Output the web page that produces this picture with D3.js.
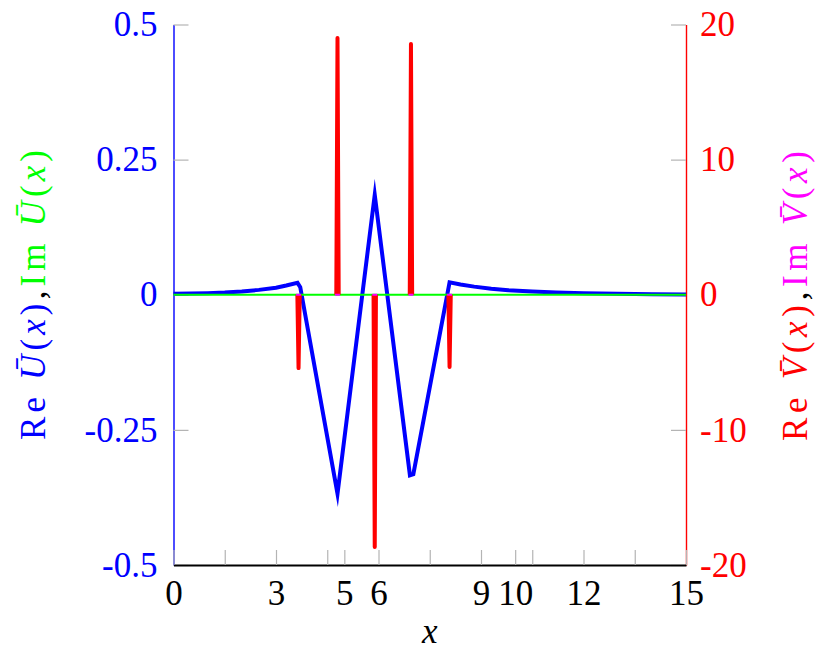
<!DOCTYPE html>
<html>
<head>
<meta charset="utf-8">
<script src="https://cdn.jsdelivr.net/npm/d3@7"></script>
<style>
  html, body { margin: 0; padding: 0; background: #fff; }
  svg { display: block; font-family: "Liberation Serif", "DejaVu Serif", serif; }
</style>
</head>
<body>
<svg id="chart" width="830" height="658"></svg>
<script>
// ---------- data ----------
const xTicks = [0, 1.5, 3, 4.5, 5, 6, 7.5, 9, 10, 10.5, 12, 13.5, 15];
const xTickLabels = ["0", "", "3", "", "5", "6", "", "9", "10", "", "12", "", "15"];
const yLeftTicks = [-0.5, -0.25, 0, 0.25, 0.5];
const yLeftTickLabels = ["-0.5", "-0.25", "0", "0.25", "0.5"];
const yRightTicks = [-20, -10, 0, 10, 20];
const yRightTickLabels = ["-20", "-10", "0", "10", "20"];

// Re U(x)  (left axis)
const reUx = [0, 0.5, 1, 1.5, 2, 2.5, 3, 3.3, 3.63, 3.71, 4.80, 5.89, 6.92, 7.02, 8.08, 8.4, 8.8, 9.3, 9.8, 10.5, 11.2, 12, 13, 14, 15];
const reUy = [0.002, 0.0025, 0.003, 0.004, 0.006, 0.009, 0.013, 0.017, 0.022, 0.014, -0.368, 0.185, -0.334, -0.332, 0.023, 0.019, 0.015, 0.011, 0.0085, 0.006, 0.0042, 0.0028, 0.0017, 0.001, 0.0006];
// Im U(x)  (left axis)
const imUx = [0, 15];
const imUy = [0, 0];
// Re V(x)  (right axis) – separate spikes, null = gap
const reVx = [3.625, 3.66, 3.695, null, 4.765, 4.80, 4.835, null, 5.855, 5.89, 5.925, null, 6.915, 6.95, 6.985, null, 8.045, 8.08, 8.115];
const reVy = [0, -5.43, 0, null, 0, 19.0, 0, null, 0, -18.67, 0, null, 0, 18.55, 0, null, 0, -5.35, 0];
// Im V(x)  (right axis)
const imVx = [3.59, 3.73, null, 4.73, 4.87, null, 5.82, 5.96, null, 6.88, 7.02, null, 8.01, 8.15];
const imVy = [0, 0, null, 0, 0, null, 0, 0, null, 0, 0, null, 0, 0];

// ---------- colours ----------
const BLUE = "#0000ff", GREEN = "#00ff00", RED = "#ff0000", MAGENTA = "#ff00ff", GREY = "#b4b4b4";
const FS = 35;

const svg = d3.select("#chart");
const xS = d3.scaleLinear().domain([0, 15]).range([173.5, 686]);
const yL = d3.scaleLinear().domain([-0.5, 0.5]).range([565, 24.5]);
const yR = d3.scaleLinear().domain([-20, 20]).range([565, 24.5]);

function styleAxis(g, domainColor, domainWidth, textColor) {
  g.select(".domain").attr("stroke", domainColor).attr("stroke-width", domainWidth);
  g.selectAll(".tick line").attr("stroke", GREY).attr("stroke-width", 1.2);
  g.selectAll(".tick text").attr("fill", textColor).attr("font-size", FS)
    .attr("font-family", "Liberation Serif, DejaVu Serif, serif");
}

// left axis
const gL = svg.append("g").attr("transform", `translate(${xS(0)},0)`)
  .call(d3.axisLeft(yL).tickValues(yLeftTicks)
    .tickFormat((d, i) => yLeftTickLabels[i])
    .tickSizeInner(-15).tickSizeOuter(0).tickPadding(16));
styleAxis(gL, BLUE, 1.4, BLUE);

// right axis
const gR = svg.append("g").attr("transform", `translate(${xS(15)},0)`)
  .call(d3.axisRight(yR).tickValues(yRightTicks)
    .tickFormat((d, i) => yRightTickLabels[i])
    .tickSizeInner(-15).tickSizeOuter(0).tickPadding(14));
styleAxis(gR, RED, 1.4, RED);

// bottom axis
const gB = svg.append("g").attr("transform", `translate(0,${yL(-0.5)})`)
  .call(d3.axisBottom(xS).tickValues(xTicks)
    .tickFormat((d, i) => xTickLabels[i])
    .tickSizeInner(-15).tickSizeOuter(0));
styleAxis(gB, "#000", 2, "#000");
gB.selectAll(".tick text").attr("y", 40).attr("dy", null);

// ---------- curves ----------
function series(xs, ys) { return xs.map((x, i) => [x, ys[i]]); }
function lineFor(yScale) {
  return d3.line().defined(d => d[0] !== null && d[1] !== null)
    .x(d => xS(d[0])).y(d => yScale(d[1]));
}
const lineL = lineFor(yL), lineR = lineFor(yR);

svg.append("path").attr("d", lineL(series(reUx, reUy)))
  .attr("fill", "none").attr("stroke", BLUE).attr("stroke-width", 4)
  .attr("stroke-linejoin", "miter").attr("stroke-miterlimit", 10);
svg.append("path").attr("d", lineL(series(imUx, imUy)))
  .attr("fill", "none").attr("stroke", GREEN).attr("stroke-width", 2);
svg.append("path").attr("d", lineR(series(reVx, reVy)))
  .attr("fill", "none").attr("stroke", RED).attr("stroke-width", 4)
  .attr("stroke-linejoin", "round");
svg.append("path").attr("d", lineR(series(imVx, imVy)))
  .attr("fill", "none").attr("stroke", MAGENTA).attr("stroke-width", 2);

// ---------- axis labels ----------
svg.append("text").attr("x", (xS(0) + xS(15)) / 2).attr("y", 643)
  .attr("text-anchor", "middle").attr("font-size", FS).attr("font-style", "italic").text("x");

function yLabel(x, y, letter, c1, c2) {
  const t = svg.append("text").attr("transform", `translate(${x},${y}) rotate(-90)`)
    .attr("text-anchor", "middle").attr("font-size", FS)
    .attr("textLength", 290).attr("lengthAdjust", "spacing");
  const parts = [
    ["Re\u00a0", c1, "normal"], [letter + "\u0304", c1, "italic"], ["(", c1, "normal"], ["x", c1, "italic"], [")", c1, "normal"],
    [",", "#000", "normal"],
    ["Im\u00a0", c2, "normal"], [letter + "\u0304", c2, "italic"], ["(", c2, "normal"], ["x", c2, "italic"], [")", c2, "normal"]
  ];
  parts.forEach(p => t.append("tspan").attr("fill", p[1]).attr("font-style", p[2]).text(p[0]));
}
yLabel(45, 295, "U", BLUE, GREEN);
yLabel(807, 296, "V", RED, MAGENTA);
</script>
</body>
</html>
